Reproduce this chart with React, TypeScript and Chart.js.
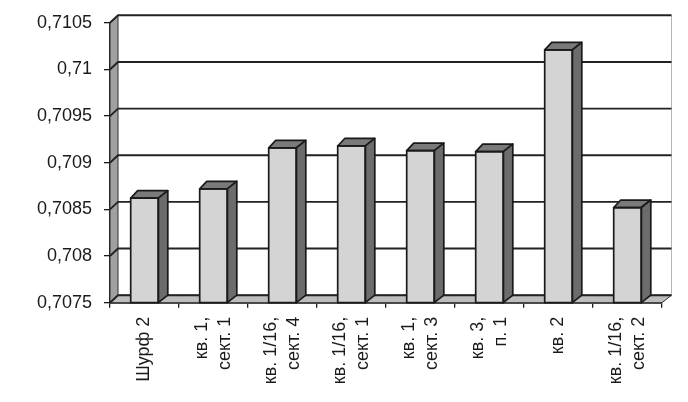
import React, { useEffect, useRef } from 'react';
import { Chart, registerables } from 'chart.js';
Chart.register(...registerables);

const categories: string[][] = [
  ['Шурф 2'],
  ['кв. 1,', 'сект. 1'],
  ['кв. 1/16,', 'сект. 4'],
  ['кв. 1/16,', 'сект. 1'],
  ['кв. 1,', 'сект. 3'],
  ['кв. 3,', 'п. 1'],
  ['кв. 2'],
  ['кв. 1/16,', 'сект. 2'],
];
const values = [0.70862, 0.70872, 0.70916, 0.70918, 0.70913, 0.70912, 0.71021, 0.70852];
const yTicks = [0.7075, 0.708, 0.7085, 0.709, 0.7095, 0.71, 0.7105];
const yTickLabels = ['0,7075', '0,708', '0,7085', '0,709', '0,7095', '0,71', '0,7105'];

const FONT = "'Liberation Sans', Arial, sans-serif";
const TEXT = '#1a1a1a';
const DX_L = 8, DX_R = 9.5, DY = -7.5;
const BDX_L = 7, BDX_R = 9.5;

function poly(ctx: CanvasRenderingContext2D, pts: number[][], fill: string, stroke: string, lw: number) {
  ctx.beginPath();
  ctx.moveTo(pts[0][0], pts[0][1]);
  for (let i = 1; i < pts.length; i++) ctx.lineTo(pts[i][0], pts[i][1]);
  ctx.closePath();
  ctx.fillStyle = fill;
  ctx.fill();
  ctx.strokeStyle = stroke;
  ctx.lineWidth = lw;
  ctx.stroke();
}

const depthPlugin = {
  id: 'depth3d',
  beforeDatasetsDraw(chart: any) {
    const { ctx, chartArea, scales } = chart;
    const { left, right, top, bottom } = chartArea;
    const y = scales.y;
    ctx.save();
    ctx.lineJoin = 'round';
    poly(ctx, [[left, top], [left + DX_L, top + DY], [left + DX_L, bottom + DY], [left, bottom]], '#a0a0a0', '#333', 1);
    poly(ctx, [[left, bottom], [right, bottom], [right + DX_R, bottom + DY], [left + DX_L, bottom + DY]], '#bdbdbd', '#333', 1);
    ctx.strokeStyle = '#b5b5b5';
    ctx.lineWidth = 1;
    ctx.beginPath();
    ctx.moveTo(right + DX_R, top + DY);
    ctx.lineTo(right + DX_R, bottom + DY);
    ctx.stroke();
    ctx.strokeStyle = '#222';
    ctx.lineWidth = 1.9;
    yTicks.forEach((v) => {
      const yy = y.getPixelForValue(v);
      ctx.beginPath();
      ctx.moveTo(left, yy);
      ctx.lineTo(left + DX_L, yy + DY);
      ctx.lineTo(right + DX_R, yy + DY);
      ctx.stroke();
    });
    ctx.restore();
  },
  afterDatasetsDraw(chart: any) {
    const { ctx, chartArea } = chart;
    const meta = chart.getDatasetMeta(0);
    ctx.save();
    ctx.lineJoin = 'round';
    meta.data.forEach((bar: any) => {
      const { x, y, width, base } = bar.getProps(['x', 'y', 'width', 'base'], true);
      const b = Math.min(base, chartArea.bottom);
      const l = x - width / 2, r = x + width / 2;
      poly(ctx, [[l, y], [l + BDX_L, y + DY], [r + BDX_R, y + DY], [r, y]], '#7a7a7a', '#1a1a1a', 1.7);
      poly(ctx, [[r, y], [r + BDX_R, y + DY], [r + BDX_R, b + DY], [r, b]], '#6c6c6c', '#1a1a1a', 1.7);
      ctx.strokeStyle = '#1a1a1a';
      ctx.lineWidth = 1.7;
      ctx.strokeRect(l, y, width, b - y);
    });
    ctx.restore();
  },
  afterDraw(chart: any) {
    const { ctx, scales, chartArea } = chart;
    const xs = scales.x;
    const lh = 23;
    const anchorY = chartArea.bottom + 14;
    ctx.save();
    ctx.font = `18px ${FONT}`;
    ctx.fillStyle = TEXT;
    ctx.textAlign = 'right';
    ctx.textBaseline = 'middle';
    categories.forEach((lines, i) => {
      const cx = xs.getPixelForValue(i);
      const n = lines.length;
      lines.forEach((t, j) => {
        const px = cx + (j - (n - 1) / 2) * lh;
        ctx.save();
        ctx.translate(px, anchorY);
        ctx.rotate(-Math.PI / 2);
        ctx.fillText(t, 0, 0);
        ctx.restore();
      });
    });
    ctx.restore();
  },
};

export default function App() {
  const ref = useRef<HTMLCanvasElement>(null);
  useEffect(() => {
    if (!ref.current) return;
    const chart = new Chart(ref.current, {
      type: 'bar',
      data: {
        labels: categories.map((c) => c.join(' ')),
        datasets: [
          {
            data: values,
            backgroundColor: '#d4d4d4',
            borderColor: '#1a1a1a',
            borderWidth: 0,
            barPercentage: 0.8,
            categoryPercentage: 0.5,
          },
        ],
      },
      options: {
        responsive: false,
        devicePixelRatio: 1,
        animation: false,
        layout: { padding: { top: 20.7, right: 26, left: 0, bottom: 0 } },
        plugins: { legend: { display: false }, tooltip: { enabled: false } },
        scales: {
          x: {
            offset: true,
            grid: { drawOnChartArea: false, drawTicks: true, tickLength: 5, color: '#1a1a1a', lineWidth: 1.3, offset: true },
            border: { display: true, color: '#1a1a1a', width: 1.7 },
            ticks: { display: false },
            afterFit: (s: any) => { s.height = 402 - 302.7; },
          },
          y: {
            min: 0.7075,
            max: 0.7105,
            afterBuildTicks: (s: any) => { s.ticks = yTicks.map((v) => ({ value: v })); },
            grid: { drawOnChartArea: false, drawTicks: true, tickLength: 6, color: '#1a1a1a', lineWidth: 1.3 },
            border: { display: true, color: '#1a1a1a', width: 1.7 },
            ticks: {
              padding: 12,
              color: TEXT,
              font: { size: 18, family: FONT },
              callback: (v: any) => {
                const idx = yTicks.findIndex((t) => Math.abs(t - Number(v)) < 1e-7);
                return idx >= 0 ? yTickLabels[idx] : '';
              },
            },
            afterFit: (s: any) => { s.width = 110; },
          },
        },
      },
      plugins: [depthPlugin],
    });
    return () => chart.destroy();
  }, []);
  return (
    <div style={{ position: 'fixed', left: 0, top: 0, width: 688, height: 402, background: '#fff' }}>
      <canvas ref={ref} width={688} height={402} />
    </div>
  );
}
